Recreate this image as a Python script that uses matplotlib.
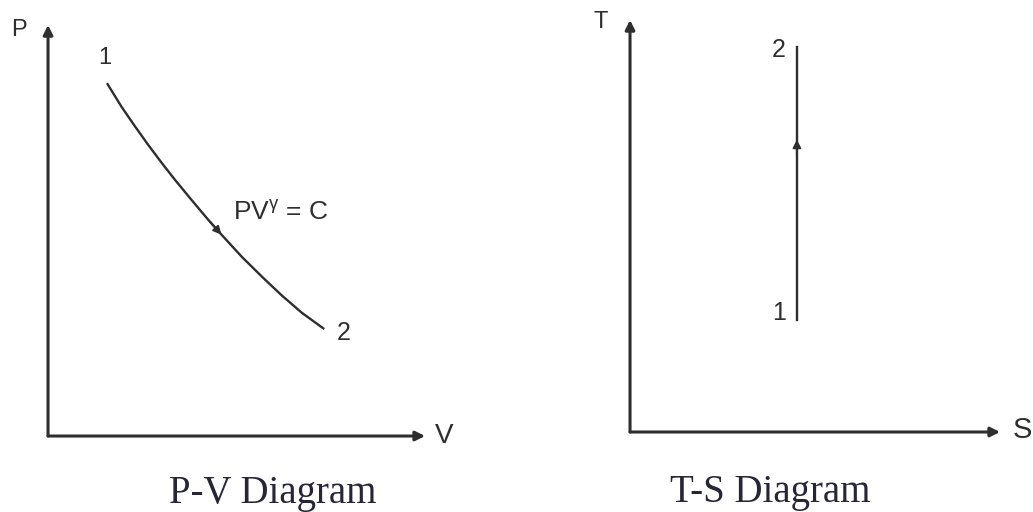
import matplotlib.pyplot as plt
import numpy as np

plt.rcParams['font.family'] = ['Liberation Sans', 'DejaVu Sans']
plt.rcParams['mathtext.fontset'] = 'custom'
plt.rcParams['mathtext.rm'] = 'Liberation Sans'
plt.rcParams['mathtext.it'] = 'Liberation Sans'

# P-V process curve (arbitrary units)
pv_V = [1.58, 1.95, 2.31, 2.66, 3.02, 3.37, 3.81, 4.25, 4.61, 5.14, 5.67, 6.20, 6.73, 7.30]
pv_P = [8.56, 8.01, 7.53, 7.08, 6.64, 6.23, 5.74, 5.26, 4.89, 4.36, 3.88, 3.42, 3.00, 2.62]

# T-S isentropic line
ts_S = [4.51, 4.51]
ts_T = [2.72, 9.34]

ink = '#2e2e2e'
title_ink = '#262636'

fig = plt.figure(figsize=(10.33, 5.12), dpi=100)

ax1 = fig.add_axes([0.0465, 0.1484, 0.365, 0.8027])
ax2 = fig.add_axes([0.6099, 0.15625, 0.3582, 0.8047])

for ax in (ax1, ax2):
    ax.set_xlim(0, 10)
    ax.set_ylim(0, 10)
    ax.set_axis_off()
    arrow = dict(arrowstyle='-|>', lw=2.2, color=ink, mutation_scale=14,
                 shrinkA=0, shrinkB=0)
    ax.annotate('', xy=(1, 0), xytext=(0, 0), xycoords='axes fraction',
                arrowprops=arrow, annotation_clip=False)
    ax.annotate('', xy=(0, 1), xytext=(0, 0), xycoords='axes fraction',
                arrowprops=arrow, annotation_clip=False)

# left: P-V
ax1.plot(pv_V, pv_P, color=ink, lw=1.7, clip_on=False)
v_mid = 4.5
ax1.annotate('', xy=(v_mid + 0.1, np.interp(v_mid + 0.1, pv_V, pv_P)),
             xytext=(v_mid - 0.2, np.interp(v_mid - 0.2, pv_V, pv_P)),
             arrowprops=dict(arrowstyle='-|>', lw=1.4, color=ink,
                             mutation_scale=12, shrinkA=0, shrinkB=0))
ax1.text(-0.78, 9.88, 'P', fontsize=17, color=ink, ha='center', va='center')
ax1.text(10.25, 0.0, 'V', fontsize=20, color=ink, ha='left', va='center')
ax1.text(1.51, 9.2, '1', fontsize=17, color=ink, ha='center', va='center')
ax1.text(7.85, 2.5, '2', fontsize=18, color=ink, ha='center', va='center')
ax1.text(4.9, 5.43, r'PV$^{\gamma}$ = C', fontsize=19, color=ink,
         ha='left', va='center')
ax1.text(5.97, -1.39, 'P-V Diagram', fontsize=28, color=title_ink,
         family='Liberation Serif', ha='center', va='center')

# right: T-S
ax2.plot(ts_S, ts_T, color=ink, lw=1.7)
t_mid = 7.0
ax2.annotate('', xy=(ts_S[0], t_mid + 0.1), xytext=(ts_S[0], t_mid - 0.3),
             arrowprops=dict(arrowstyle='-|>', lw=1.4, color=ink,
                             mutation_scale=12, shrinkA=0, shrinkB=0))
ax2.text(-0.78, 9.95, 'T', fontsize=17, color=ink, ha='center', va='center')
ax2.text(10.35, 0.05, 'S', fontsize=21, color=ink, ha='left', va='center')
ax2.text(4.03, 9.27, '2', fontsize=18, color=ink, ha='center', va='center')
ax2.text(4.03, 2.9, '1', fontsize=18, color=ink, ha='center', va='center')
ax2.text(3.8, -1.48, 'T-S Diagram', fontsize=28, color=title_ink,
         family='Liberation Serif', ha='center', va='center')

fig.savefig('out.png', dpi=100)
